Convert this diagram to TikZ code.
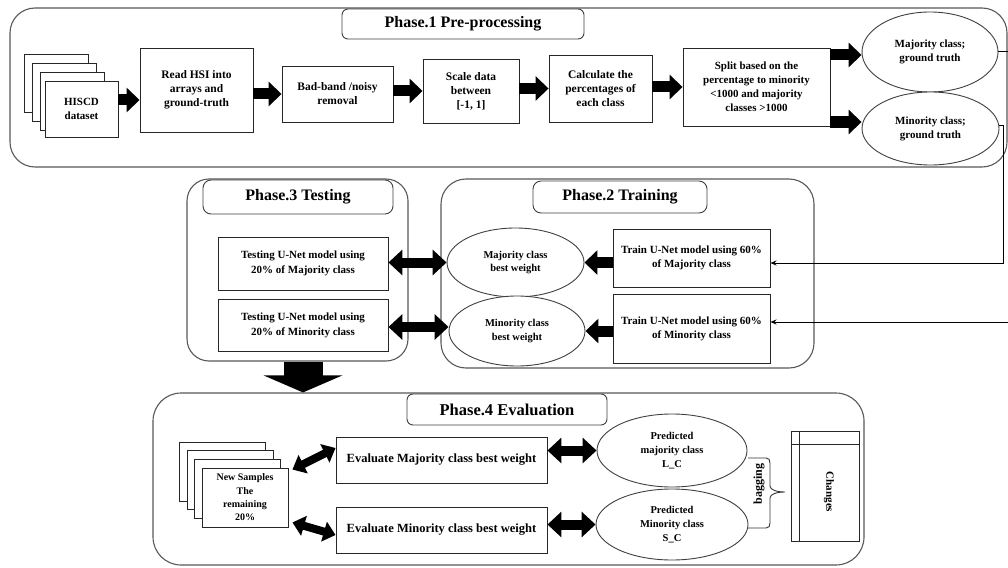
\documentclass[tikz,border=0pt]{standalone}
\usepackage{fontspec}
\setmainfont{Liberation Serif}
\usetikzlibrary{arrows.meta,shapes.geometric}
\begin{document}
\begin{tikzpicture}[x=1pt,y=-1pt,
  phasebox/.style={draw=black!65, line width=1.1pt, rounded corners=#1, inner sep=0pt},
  titlebox/.style={draw=black!75, line width=0.9pt, rounded corners=6pt, inner sep=0pt, font=\fontsize{16}{18}\selectfont\bfseries},
  procbox/.style={draw=black!85, fill=white, line width=0.9pt, inner sep=1pt, align=center, font=\fontsize{11.5}{14}\selectfont\bfseries},
  oval/.style={ellipse, draw=black!75, fill=white, line width=0.9pt, inner sep=0pt, align=center, font=\fontsize{10.5}{13.5}\selectfont\bfseries},
  blk/.style={line width=11pt, -{Triangle[width=24pt,length=13pt]}},
  dbl/.style={line width=10pt, {Triangle[width=25pt,length=14pt]}-{Triangle[width=25pt,length=14pt]}},
  dblsm/.style={line width=8pt, {Triangle[width=20pt,length=12pt]}-{Triangle[width=20pt,length=12pt]}},
  thinarr/.style={line width=1pt, -{Stealth[length=6pt,width=5pt]}},
]
\useasboundingbox (0,0) rectangle (1008,567);
\fill[white] (0,0) rectangle (1008,567);

% ---------------- Phase 1 ----------------
\node[phasebox=25pt, minimum width=997pt, minimum height=159pt] (ph1) at (508.5,87.5) {};
\node[titlebox, minimum width=242pt, minimum height=30pt] (t1) at (463,24) {Phase.1 Pre-processing};

\node[procbox, minimum width=64pt, minimum height=58pt] (h1) at (56,83) {};
\node[procbox, minimum width=64pt, minimum height=58pt] (h2) at (64,92) {};
\node[procbox, minimum width=64pt, minimum height=58pt] (h3) at (72,101) {};
\node[procbox, minimum width=73pt, minimum height=56pt, font=\fontsize{11}{14}\selectfont\bfseries] (hiscd) at (81.5,109) {HISCD\\dataset};

\node[procbox, minimum width=113pt, minimum height=84pt] (read) at (196.5,90) {Read HSI into\\arrays and\\ground-truth};
\node[procbox, minimum width=111pt, minimum height=56pt] (bad) at (337.5,94) {Bad-band /noisy\\removal};
\node[procbox, minimum width=96pt, minimum height=64pt] (scale) at (471,91) {Scale data\\between\\{[-1, 1]}};
\node[procbox, minimum width=103pt, minimum height=67pt] (calc) at (600.5,88.5) {Calculate the\\percentages of\\each class};
\node[procbox, minimum width=147pt, minimum height=78pt, font=\fontsize{11}{14}\selectfont\bfseries] (split) at (756.5,87) {Split based on the\\percentage to minority\\<1000 and majority\\classes >1000};
\node[oval, minimum width=136pt, minimum height=80pt, font=\fontsize{11}{14}\selectfont\bfseries] (maj) at (930,52) {Majority class;\\ground truth};
\node[oval, minimum width=137pt, minimum height=73pt, font=\fontsize{11}{14}\selectfont\bfseries] (mino) at (930.5,128.5) {Minority class;\\ground truth};

\draw[blk] ([yshift=9pt]hiscd.east) -- ([yshift=-10pt]read.west);
\draw[blk] (read.east |- bad.west) -- (bad.west);
\draw[blk] (bad.east |- scale.west) -- (scale.west);
\draw[blk] (scale.east |- calc.west) -- (calc.west);
\draw[blk] (calc.east |- split.west) -- (split.west);
\draw[blk] ([yshift=32pt]split.east) -- ([yshift=-3pt]maj.west);
\draw[blk] ([yshift=-35pt]split.east) -- ([yshift=6.5pt]mino.west);

% ---------------- Phase 3 ----------------
\node[phasebox=22pt, minimum width=221pt, minimum height=182pt] (ph3) at (297.5,270) {};
\node[titlebox, rounded corners=8pt, minimum width=190pt, minimum height=34pt] (t3) at (298,197) {Phase.3 Testing};
\node[procbox, minimum width=170pt, minimum height=53pt, font=\fontsize{11}{15}\selectfont\bfseries] (test1) at (303,263.5) {Testing U-Net model using\\20\% of Majority class};
\node[procbox, minimum width=170pt, minimum height=52pt, font=\fontsize{11}{15}\selectfont\bfseries] (test2) at (303,325) {Testing U-Net model using\\20\% of Minority class};

% ---------------- Phase 2 ----------------
\node[phasebox=25pt, minimum width=373pt, minimum height=189pt] (ph2) at (627.5,273.5) {};
\node[titlebox, rounded corners=8pt, minimum width=174pt, minimum height=32pt] (t2) at (620,197) {Phase.2 Training};
\node[oval, minimum width=137pt, minimum height=69pt] (mbw) at (515.5,262.5) {Majority class\\best weight};
\node[oval, minimum width=136pt, minimum height=70pt] (nbw) at (517,331) {Minority class\\best weight};
\node[procbox, minimum width=157pt, minimum height=58pt, font=\fontsize{11}{14}\selectfont\bfseries] (train1) at (691.5,258) {Train U-Net model using 60\%\\of Majority class};
\node[procbox, minimum width=157pt, minimum height=69pt, font=\fontsize{11}{14}\selectfont\bfseries] (train2) at (691.5,328.5) {Train U-Net model using 60\%\\of Minority class};

\draw[blk] (train1.west |- mbw.east) -- (mbw.east);
\draw[blk] (train2.west |- nbw.east) -- (nbw.east);
\draw[dbl] (test1.east |- mbw.west) -- (mbw.west);
\draw[dbl] ([yshift=4pt]test2.east |- nbw.west) -- ([yshift=4pt]nbw.west);

% connectors from phase 1 to phase 2
\draw[thinarr] ([yshift=3.5pt]mino.east) -- ++(4pt,0pt) |- ([yshift=-5pt]train1.east);
\draw[thinarr] (maj.east) -- ++(20pt,0pt) |- ([yshift=6.5pt]train2.east);

% ---------------- Phase 4 ----------------
\node[phasebox=28pt, minimum width=711pt, minimum height=172pt] (ph4) at (508.5,479) {};
\node[titlebox, minimum width=200pt, minimum height=31pt, font=\fontsize{16.5}{18}\selectfont\bfseries] (t4) at (507,409.5) {Phase.4 Evaluation};

% big arrow phase 3 -> phase 4
\draw[line width=39pt, -{Triangle[width=78pt,length=17pt]}] ([xshift=5.5pt]ph3.south) -- ([xshift=-205.5pt]ph4.north);

\node[procbox, minimum width=86pt, minimum height=59pt] (n1) at (222,471.5) {};
\node[procbox, minimum width=86pt, minimum height=59pt] (n2) at (230,479.5) {};
\node[procbox, minimum width=86pt, minimum height=59pt] (n3) at (237,488.5) {};
\node[procbox, minimum width=86pt, minimum height=59pt, font=\fontsize{10}{13.3}\selectfont\bfseries] (new) at (245,497.5) {New Samples\\The\\remaining\\20\%};

\node[procbox, minimum width=211pt, minimum height=46pt, font=\fontsize{12.5}{15}\selectfont\bfseries] (eval1) at (441.5,460) {Evaluate Majority class best weight};
\node[procbox, minimum width=211pt, minimum height=46pt, font=\fontsize{12.5}{15}\selectfont\bfseries] (eval2) at (441.5,530) {Evaluate Minority class best weight};

\node[oval, minimum width=150pt, minimum height=73pt, font=\fontsize{10.5}{14}\selectfont\bfseries] (pmaj) at (672,450.5) {Predicted\\majority class\\L\_C};
\node[oval, minimum width=152pt, minimum height=71pt, font=\fontsize{10.5}{14}\selectfont\bfseries] (pmin) at (672,524.5) {Predicted\\Minority class\\S\_C};

\draw[dblsm] ([xshift=4pt,yshift=-2pt]new.north east) -- ([yshift=12pt]eval1.west);
\draw[dblsm] ([xshift=4pt,yshift=5pt]new.south east) -- ([yshift=-5pt]eval2.west);
\draw[dbl] (eval1.east |- pmaj.west) -- (pmaj.west);
\draw[dbl] (eval2.east |- pmin.west) -- (pmin.west);

% brace and bagging
\draw[line width=0.9pt, black!80] (748,458) -- (766,458)
  .. controls (769,458) and (770,460) .. (770,463) -- (770,486)
  .. controls (770,490) and (777,492) .. (785,492)
  .. controls (777,492) and (770,494) .. (770,498) -- (770,523)
  .. controls (770,526) and (769,528) .. (766,528) -- (748,528);
\node[rotate=90, font=\fontsize{12}{14}\selectfont\bfseries, inner sep=0pt] (bag) at (759,484) {bagging};

% changes table
\node[draw=black!85, line width=0.9pt, minimum width=68pt, minimum height=110pt, inner sep=0pt] (chg) at (825,486) {};
\draw[line width=0.9pt, black!85] (chg.north west) ++(9pt,0pt) -- ++(0pt,-110pt);
\draw[line width=0.9pt, black!85] (chg.north west) ++(0pt,-14pt) -- ++(68pt,0pt);
\node[rotate=-90, font=\fontsize{11}{14}\selectfont\bfseries, inner sep=0pt] (chgtxt) at (829,492) {Changes};

\end{tikzpicture}
\end{document}
